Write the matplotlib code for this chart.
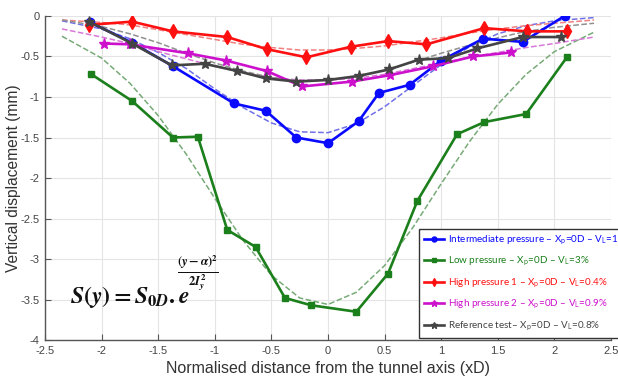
import matplotlib
matplotlib.use('Agg')
import matplotlib.pyplot as plt

# =====================================================
# DATA
# =====================================================

# measured settlement troughs
x_inter = [-2.1, -1.73, -1.37, -0.83, -0.55, -0.28, 0.0, 0.27, 0.45, 0.72, 1.0, 1.37, 1.72, 2.09]
y_inter = [-0.08, -0.33, -0.62, -1.08, -1.17, -1.50, -1.57, -1.30, -0.95, -0.85, -0.55, -0.28, -0.32, 0.0]

x_low = [-2.09, -1.73, -1.37, -1.15, -0.89, -0.64, -0.38, -0.15, 0.25, 0.53, 0.79, 1.14, 1.38, 1.75, 2.11]
y_low = [-0.72, -1.05, -1.50, -1.49, -2.64, -2.85, -3.48, -3.57, -3.65, -3.18, -2.28, -1.46, -1.31, -1.21, -0.51]

x_high1 = [-2.11, -1.73, -1.37, -0.89, -0.54, -0.19, 0.20, 0.53, 0.87, 1.38, 1.76, 2.11]
y_high1 = [-0.11, -0.07, -0.19, -0.26, -0.41, -0.51, -0.38, -0.31, -0.35, -0.15, -0.19, -0.19]

x_high2 = [-1.98, -1.75, -1.24, -0.90, -0.54, -0.23, 0.21, 0.55, 0.93, 1.28, 1.62]
y_high2 = [-0.34, -0.35, -0.46, -0.55, -0.68, -0.87, -0.81, -0.73, -0.62, -0.50, -0.45]

x_ref = [-2.11, -1.73, -1.38, -1.09, -0.80, -0.55, -0.28, 0.0, 0.27, 0.54, 0.80, 1.06, 1.32, 1.72, 2.06]
y_ref = [-0.07, -0.34, -0.61, -0.59, -0.68, -0.77, -0.81, -0.79, -0.74, -0.66, -0.54, -0.52, -0.40, -0.26, -0.26]

# gaussian fits (dashed)
x_fit = [-2.35, -2.0, -1.75, -1.5, -1.25, -1.0, -0.75, -0.5, -0.25, 0.0,
         0.25, 0.5, 0.75, 1.0, 1.25, 1.5, 1.75, 2.0, 2.35]
fit_inter = [-0.06, -0.16, -0.28, -0.45, -0.65, -0.90, -1.13, -1.32, -1.43, -1.44,
             -1.33, -1.12, -0.86, -0.60, -0.38, -0.22, -0.12, -0.06, -0.02]
fit_low = [-0.25, -0.52, -0.83, -1.23, -1.71, -2.25, -2.77, -3.20, -3.48, -3.56,
           -3.41, -3.08, -2.61, -2.07, -1.55, -1.09, -0.72, -0.44, -0.20]
fit_high1 = [-0.05, -0.08, -0.11, -0.17, -0.23, -0.29, -0.35, -0.39, -0.42, -0.42,
             -0.40, -0.37, -0.32, -0.27, -0.21, -0.16, -0.12, -0.09, -0.05]
fit_high2 = [-0.16, -0.26, -0.34, -0.44, -0.53, -0.62, -0.70, -0.76, -0.79, -0.79,
             -0.77, -0.72, -0.65, -0.58, -0.51, -0.45, -0.39, -0.34, -0.26]
fit_ref = [-0.05, -0.13, -0.22, -0.33, -0.46, -0.58, -0.68, -0.76, -0.80, -0.79,
           -0.75, -0.67, -0.57, -0.46, -0.36, -0.27, -0.19, -0.14, -0.09]

x_ticks = [-2.5, -2, -1.5, -1, -0.5, 0, 0.5, 1, 1.5, 2, 2.5]
x_ticklabels = ['-2.5', '-2', '-1.5', '-1', '-0.5', '0', '0.5', '1', '1.5', '2', '2.5']
y_ticks = [0, -0.5, -1, -1.5, -2, -2.5, -3, -3.5, -4]
y_ticklabels = ['0', '-0.5', '-1', '-1.5', '-2', '-2.5', '-3', '-3.5', '-4']

labels = [
    r'Intermediate pressure – X$_\mathregular{p}$=0D – V$_\mathregular{L}$=1%',
    r'Low pressure – X$_\mathregular{p}$=0D – V$_\mathregular{L}$=3%',
    r'High pressure 1 – X$_\mathregular{p}$=0D – V$_\mathregular{L}$=0.4%',
    r'High pressure 2 – X$_\mathregular{p}$=0D – V$_\mathregular{L}$=0.9%',
    r'Reference test– X$_\mathregular{p}$=0D – V$_\mathregular{L}$=0.8%',
]

# =====================================================
# STYLE
# =====================================================

plt.rcParams['font.family'] = ['Liberation Sans', 'DejaVu Sans']
plt.rcParams['axes.unicode_minus'] = False
plt.rcParams['mathtext.fontset'] = 'custom'
plt.rcParams['mathtext.rm'] = 'STIXGeneral:bold'
plt.rcParams['mathtext.it'] = 'STIXGeneral:italic:bold'
plt.rcParams['mathtext.bf'] = 'STIXGeneral:italic:bold'

fig = plt.figure(figsize=(6.18, 3.8), dpi=100)
ax = fig.add_axes([0.0728, 0.105, 0.9159, 0.853])

# dashed fits first (underneath)
ax.plot(x_fit, fit_inter, linestyle='--', color='#7070e8', linewidth=1.1)
ax.plot(x_fit, fit_low, linestyle='--', color='#78aa78', linewidth=1.1)
ax.plot(x_fit, fit_high1, linestyle='--', color='#f08080', linewidth=1.1)
ax.plot(x_fit, fit_high2, linestyle='--', color='#d878d8', linewidth=1.1)
ax.plot(x_fit, fit_ref, linestyle='--', color='#909090', linewidth=1.1)

# measured curves
h1, = ax.plot(x_inter, y_inter, color='#0a0aff', marker='o', markersize=6, linewidth=1.9)
h2, = ax.plot(x_low, y_low, color='#1b7f1b', marker='s', markersize=5, linewidth=1.9)
h3, = ax.plot(x_high1, y_high1, color='#ff1010', marker='d', markersize=7, linewidth=1.9)
h4, = ax.plot(x_high2, y_high2, color='#cc10cc', marker='*', markersize=8, linewidth=1.9)
h5, = ax.plot(x_ref, y_ref, color='#444444', marker='*', markersize=8, linewidth=1.9)

ax.set_xlim(-2.5, 2.5)
ax.set_ylim(-4, 0)
ax.set_xticks(x_ticks)
ax.set_xticklabels(x_ticklabels)
ax.set_yticks(y_ticks)
ax.set_yticklabels(y_ticklabels)
ax.tick_params(direction='in', length=4, color='#555555', labelsize=8,
               labelcolor='#444444', pad=4)

ax.grid(True, color='#e4e4e4', linewidth=0.8)
ax.set_axisbelow(True)
for side in ['top', 'right']:
    ax.spines[side].set_visible(False)
for side in ['left', 'bottom']:
    ax.spines[side].set_color('#555555')
    ax.spines[side].set_linewidth(1.0)

ax.set_xlabel('Normalised distance from the tunnel axis (xD)', fontsize=11.5,
              color='#333333', labelpad=4)
ax.set_ylabel('Vertical displacement (mm)', fontsize=11.2, color='#333333')
ax.yaxis.set_label_coords(-0.043, 0.5)

# equation
ax.text(-2.28, -3.47, r'$S(y)=S_{0D}.e$', fontsize=17, ha='left', va='center',
        color='#111111')
ax.text(-1.15, -3.17, r'$\frac{(y-\alpha)^2}{2I_y^2}$', fontsize=13, ha='center',
        va='center', color='#111111')

leg = ax.legend([h1, h2, h3, h4, h5], labels, loc='upper left',
                bbox_to_anchor=(0.661, 0.343), frameon=True,
                fancybox=False, edgecolor='#333333', framealpha=1.0,
                handlelength=2.0, markerscale=0.6, labelspacing=0.85,
                borderpad=0.5, borderaxespad=0.0, handletextpad=0.4,
                prop={'family': ['Lato', 'DejaVu Sans'], 'size': 7.1})
leg.get_frame().set_linewidth(1.0)
for txt, h in zip(leg.get_texts(), [h1, h2, h3, h4, h5]):
    txt.set_color(h.get_color())

fig.savefig('out.png', dpi=100)
